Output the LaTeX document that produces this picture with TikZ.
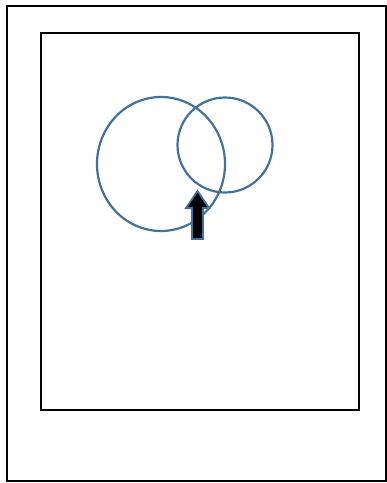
\documentclass[tikz,border=0pt]{standalone}
\usepackage{tikz}
\usetikzlibrary{arrows.meta}
\definecolor{ink}{RGB}{0,0,0}
\definecolor{ring}{RGB}{65,113,156}
\tikzset{
  frame/.style={draw=ink,line width=2pt},
  disc/.style={draw=ring,line width=2.2pt},
  upar/.style={draw=ring,fill=ink,line width=1.8pt,line join=miter},
}
\begin{document}
\begin{tikzpicture}[x=1pt,y=-1pt]
  \useasboundingbox (0,0) rectangle (387,483);
  % frames
  \draw[frame] (7,6) rectangle (386,481);
  \draw[frame] (41,33) rectangle (359,410);
  % circles
  \draw[disc] (161,164) ellipse [x radius=64,y radius=67];
  \draw[disc] (225,145) ellipse [x radius=47.5,y radius=47.5];
  % arrow
  \draw[upar] (192,239) -- (192,208) -- (186,208) -- (197.5,191)
    -- (209,208) -- (203,208) -- (203,239) -- cycle;
\end{tikzpicture}
\end{document}
